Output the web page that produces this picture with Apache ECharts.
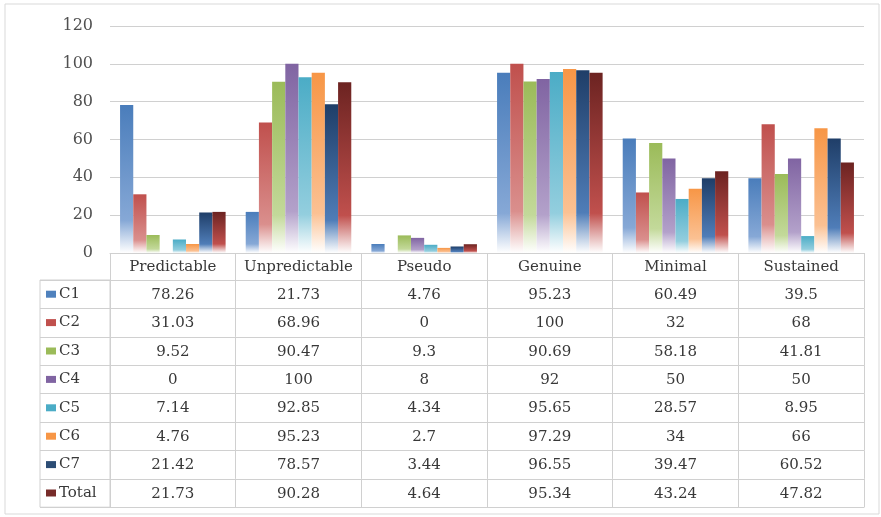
<!DOCTYPE html>
<html>
<head>
<meta charset="utf-8">
<script src="https://cdn.jsdelivr.net/npm/echarts@6/dist/echarts.min.js"></script>
<style>
  html, body { margin: 0; padding: 0; background: #fff; }
  #chart { width: 881px; height: 517px; }
</style>
</head>
<body>
<div id="chart"></div>
<script>
const categories = ['Predictable', 'Unpredictable', 'Pseudo', 'Genuine', 'Minimal', 'Sustained'];
const seriesNames = ['C1', 'C2', 'C3', 'C4', 'C5', 'C6', 'C7', 'Total'];
const c1 = [78.26, 21.73, 4.76, 95.23, 60.49, 39.5];
const c2 = [31.03, 68.96, 0, 100, 32, 68];
const c3 = [9.52, 90.47, 9.3, 90.69, 58.18, 41.81];
const c4 = [0, 100, 8, 92, 50, 50];
const c5 = [7.14, 92.85, 4.34, 95.65, 28.57, 8.95];
const c6 = [4.76, 95.23, 2.7, 97.29, 34, 66];
const c7 = [21.42, 78.57, 3.44, 96.55, 39.47, 60.52];
const total = [21.73, 90.28, 4.64, 95.34, 43.24, 47.82];
const yMin = 0, yMax = 120, yStep = 20;

const seriesValues = [c1, c2, c3, c4, c5, c6, c7, total];

// styles
const palette = [
  ['#4A7DBB', '#86A8D6', '#4F81BD'],
  ['#C0504D', '#DA8F8D', '#C0504D'],
  ['#9BBB59', '#C3D99A', '#9BBB59'],
  ['#8064A2', '#B3A1CA', '#8064A2'],
  ['#4BACC6', '#93CEDE', '#4BACC6'],
  ['#F79646', '#FBC193', '#F79646'],
  ['#1F3E68', '#4F7DB8', '#2C4D75'],
  ['#6C2321', '#C0504D', '#772C2A']
];
const FONT = 'DejaVu Serif';
const LINE = '#D0D0D0';
const TXT = '#383838';
const HEADER_H = 27;
const ROW_H = 28.4;

function grad(p) {
  return new echarts.graphic.LinearGradient(0, 0, 0, 1, [
    { offset: 0, color: p[0] },
    { offset: 0.78, color: p[1] },
    { offset: 1, color: 'rgba(255,255,255,0.95)' }
  ]);
}

const headerLabel = { interval: 0, margin: 6, color: TXT, fontFamily: FONT, fontSize: 15, lineHeight: 16 };
const rowLabel = { interval: 0, margin: 7, color: TXT, fontFamily: FONT, fontSize: 15, lineHeight: 16 };

const xAxes = [{
  type: 'category', gridIndex: 0, data: categories, position: 'bottom',
  axisLine: { lineStyle: { color: LINE, width: 1 } },
  axisTick: { show: true, length: HEADER_H, lineStyle: { color: LINE } },
  axisLabel: headerLabel,
  splitLine: { show: false }
}];
seriesValues.forEach((vals, i) => {
  xAxes.push({
    type: 'category', gridIndex: 0, data: vals.map(v => String(v)), position: 'bottom',
    offset: HEADER_H + ROW_H * i,
    axisLine: { lineStyle: { color: LINE, width: 1 } },
    axisTick: { show: true, length: ROW_H, lineStyle: { color: LINE } },
    axisLabel: rowLabel,
    splitLine: { show: false }
  });
});
xAxes.push({
  type: 'category', gridIndex: 0, data: categories, position: 'bottom',
  offset: HEADER_H + ROW_H * seriesValues.length,
  axisLine: { lineStyle: { color: LINE, width: 1 } },
  axisTick: { show: false }, axisLabel: { show: false }, splitLine: { show: false }
});
xAxes.push({ type: 'value', gridIndex: 1, show: false });

const rich = { t: { fontFamily: FONT, fontSize: 15, color: TXT, padding: [0, 0, 0, 3] } };
palette.forEach((p, i) => {
  rich['m' + i] = { width: 10, height: 7, backgroundColor: p[2] };
});

const option = {
  animation: false,
  backgroundColor: '#fff',
  graphic: [{
    type: 'rect', silent: true, z: -10,
    shape: { x: 5, y: 4, width: 874, height: 510 },
    style: { fill: 'none', stroke: '#D9D9D9', lineWidth: 1 }
  }],
  grid: [
    { left: 110, right: 17, top: 26, bottom: 264 },
    { left: 40, width: 70, top: 253 + HEADER_H, height: ROW_H * seriesNames.length,
      show: true, borderColor: LINE, borderWidth: 1, backgroundColor: 'transparent' }
  ],
  xAxis: xAxes,
  yAxis: [{
    type: 'value', gridIndex: 0, min: yMin, max: yMax, interval: yStep,
    axisLine: { show: false }, axisTick: { show: false },
    axisLabel: { color: '#505050', fontFamily: FONT, fontSize: 16, margin: 17 },
    splitLine: { lineStyle: { color: LINE, width: 1.2 } }
  }, {
    type: 'category', gridIndex: 1, data: seriesNames, inverse: true,
    axisLine: { show: false }, axisTick: { show: false },
    splitLine: { show: true, lineStyle: { color: LINE } },
    axisLabel: {
      inside: true, margin: 6, interval: 0, align: 'left',
      formatter: (v, i) => '{m' + i + '|}{t|' + v + '}',
      rich: rich
    }
  }],
  series: seriesNames.map((name, i) => ({
    name: name, type: 'bar', xAxisIndex: 0, yAxisIndex: 0,
    data: seriesValues[i],
    barGap: '0%', barCategoryGap: '16%',
    itemStyle: { color: grad(palette[i]) }
  }))
};

const chart = echarts.init(document.getElementById('chart'), null, { renderer: 'canvas' });
chart.setOption(option);
</script>
</body>
</html>
